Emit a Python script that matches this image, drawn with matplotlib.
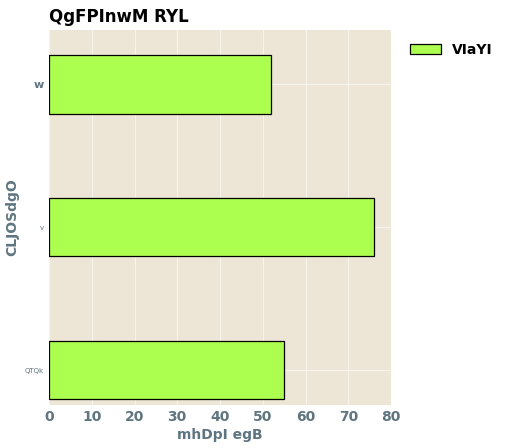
import matplotlib
matplotlib.use('Agg')
import matplotlib.pyplot as plt

categories = ['QTQk', 'v', 'w']
values = [55, 76, 52]
series_name = 'VIaYI'

fig = plt.figure(figsize=(5.12, 4.48), dpi=100)
ax = fig.add_axes([49/512, 43/448, 342/512, 375/448])
ax.set_facecolor('#ede6d6')
ax.barh(categories, values, height=0.41, color='#adff4f', edgecolor='black', linewidth=0.9, label=series_name, zorder=3)
ax.grid(True, color='white', linewidth=0.8, alpha=0.6, zorder=0)
ax.set_xlim(0, 80)
ax.set_ylim(-0.245, 2.38)
ax.set_xticks(range(0, 81, 10))
for s in ax.spines.values():
    s.set_visible(False)
ax.tick_params(length=0, colors='#5f7580')
ax.tick_params(axis='x', labelsize=10)
for lbl in ax.get_xticklabels():
    lbl.set_fontweight('bold')
ylabs = ax.get_yticklabels()
sizes = [5, 5, 8]
weights = ['normal', 'normal', 'bold']
for lbl, s, w in zip(ylabs, sizes, weights):
    lbl.set_fontsize(s)
    lbl.set_fontweight(w)
ax.set_xlabel('mhDpI egB', fontsize=10, fontweight='bold', color='#5f7580', labelpad=3)
ax.set_ylabel('CLJOSdgO', fontsize=10, fontweight='bold', color='#5f7580')
ax.set_title('QgFPInwM RYL', loc='left', fontsize=12, fontweight='bold', pad=6)
ax.legend(loc='upper left', bbox_to_anchor=(1.02, 1.0), frameon=False,
          prop={'size': 10, 'weight': 'bold'}, handlelength=2.2)
fig.savefig('out.png', dpi=100)
